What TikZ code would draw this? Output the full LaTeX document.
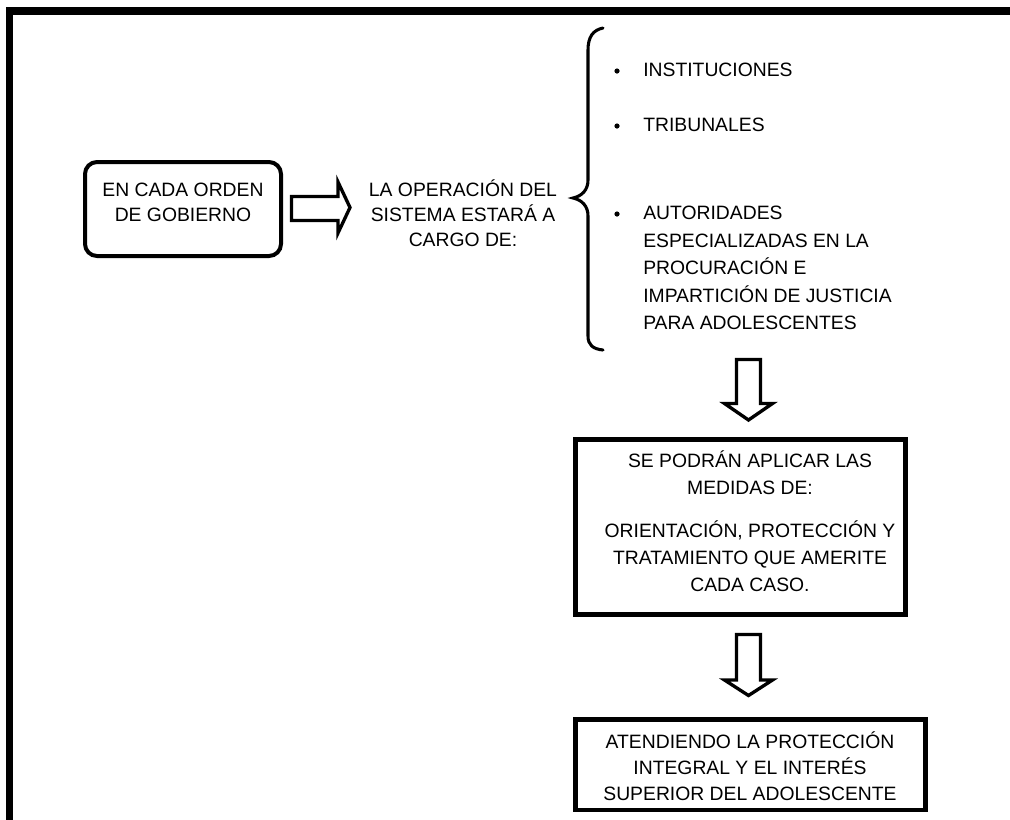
\documentclass[tikz,border=0pt]{standalone}
\usepackage{fontspec}
\setmainfont{Liberation Sans}
\begin{document}
\begin{tikzpicture}[x=0.75pt,y=-0.75pt,line join=miter]
\tikzset{
  txt/.style={font=\fontsize{14.5}{18.75}\selectfont, align=center, inner sep=0pt},
  txtwide/.style={font=\fontsize{14.5}{20.25}\selectfont, align=center, inner sep=0pt},
  listtxt/.style={font=\fontsize{14.5}{20.6}\selectfont, align=left, inner sep=0pt, anchor=west},
  roundbox/.style={draw, line width=3pt, rounded corners=9pt, inner sep=0pt,
    minimum width=196*0.75pt, minimum height=94*0.75pt},
  sqbox/.style={draw, line width=3.4pt, inner sep=0pt},
  blockarrow/.style={draw, line width=2.5pt, fill=white, line join=miter},
  bracepath/.style={draw, line width=2.3pt, line cap=round},
  dot/.style={fill=black}
}
\useasboundingbox (0,0) rectangle (1010,819);
% outer frame (cut at right and bottom)
\draw[line width=5.6pt] (9.5,830) -- (9.5,11) -- (1020,11);

% box 1
\node[roundbox] (b1) at (183,209) {};
\node[txt] (t1) at (183,202.5) {EN CADA ORDEN\\DE GOBIERNO};

% horizontal block arrow
\draw[blockarrow] (291.5,196.5) -- (338,196.5) -- (338,182) -- (350,207.5)
  -- (338,233) -- (338,220.5) -- (291.5,220.5) -- cycle;

% middle text
\node[txt] (t2) at (463,213) {LA OPERACIÓN DEL\\SISTEMA ESTARÁ A\\CARGO DE:};

% brace
\draw[bracepath] (603,28) .. controls (593,30) and (588,37) .. (588,50)
  -- (588,180) .. controls (588,190) and (582,196) .. (573,198)
  .. controls (582,200) and (588,206) .. (588,216)
  -- (588,336) .. controls (588,345) and (593,349) .. (603,350);

% bullet list
\fill[dot] (617,71) circle (2.6);
\fill[dot] (617,126) circle (2.6);
\fill[dot] (617,214) circle (2.6);
\node[listtxt] (l1) at (643,70) {INSTITUCIONES};
\node[listtxt] (l2) at (643,125) {TRIBUNALES};
\node[listtxt] (l3) at (643,268) {AUTORIDADES\\ESPECIALIZADAS EN LA\\PROCURACIÓN E\\IMPARTICIÓN DE JUSTICIA\\PARA ADOLESCENTES};

% down arrow 1
\draw[blockarrow] (736.5,359.5) -- (760.5,359.5) -- (760.5,403.5) -- (772.5,403.5)
  -- (748.5,420) -- (724.5,403.5) -- (736.5,403.5) -- cycle;

% box 2
\node[sqbox, minimum width=330.5*0.75pt, minimum height=175.5*0.75pt] (b2) at (740.5,527) {};
\node[txtwide] (t3) at (750,521.5) {SE PODRÁN APLICAR LAS\\MEDIDAS DE:\\[12pt]ORIENTACIÓN, PROTECCIÓN Y\\TRATAMIENTO QUE AMERITE\\CADA CASO.};

% down arrow 2
\draw[blockarrow] (736.5,634.5) -- (760.5,634.5) -- (760.5,680) -- (772.5,680)
  -- (748.5,695.5) -- (724.5,680) -- (736.5,680) -- cycle;

% box 3
\node[sqbox, minimum width=350.5*0.75pt, minimum height=90.5*0.75pt] (b3) at (750.5,764.5) {};
\node[font=\fontsize{14.5}{19.5}\selectfont, align=center, inner sep=0pt] (t4) at (750,766) {ATENDIENDO LA PROTECCIÓN\\INTEGRAL Y EL INTERÉS\\SUPERIOR DEL ADOLESCENTE};
\end{tikzpicture}
\end{document}
